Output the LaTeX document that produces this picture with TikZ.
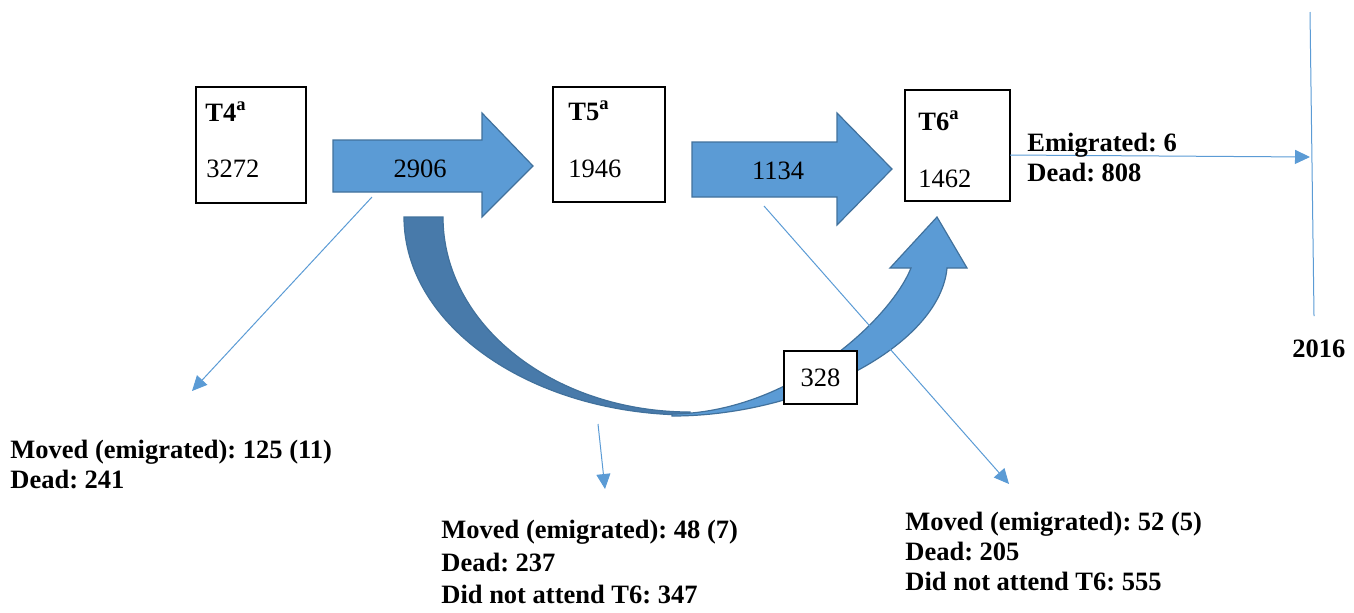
\documentclass[tikz,border=0pt]{standalone}
\usepackage{fontspec}
\setmainfont{Liberation Serif}
\usetikzlibrary{arrows.meta}
\definecolor{flowblue}{HTML}{5B9BD5}
\definecolor{flowedge}{HTML}{41719C}
\definecolor{flowdark}{HTML}{487AAA}
\frenchspacing

\begin{document}
\begin{tikzpicture}[x=0.5pt, y=-0.5pt,
    every node/.style = {font=\fontsize{13.25}{15}\selectfont},
    box/.style = {draw, line width=1pt, inner sep=0pt},
    flow/.style = {fill=flowblue, draw=flowedge, line width=0.6pt},
    thin/.style = {draw=flowblue, line width=0.5pt, -{Triangle[length=7.5pt,width=7pt]}},
    note/.style = {align=left, anchor=north west, inner sep=0pt, font=\fontsize{13.25}{15}\selectfont\bfseries}]
    \useasboundingbox (0,0) rectangle (1354,612);

    % the three waves
    \node[box, minimum width=55pt, minimum height=58pt](t4) at (251,145){};
    \node[box, minimum width=56pt, minimum height=57.5pt](t5) at (609,144.5){};
    \node[box, minimum width=52.5pt, minimum height=55.5pt](t6) at (957.5,145.5){};
    \node[anchor=base west, inner sep=0pt](t4name) at (205,121){\textbf{T4\textsuperscript{a}}};
    \node[anchor=base west, inner sep=0pt](t4n) at (206,177){3272};
    \node[anchor=base west, inner sep=0pt](t5name) at (568,120){\textbf{T5\textsuperscript{a}}};
    \node[anchor=base west, inner sep=0pt](t5n) at (568,177){1946};
    \node[anchor=base west, inner sep=0pt](t6name) at (918,130){\textbf{T6\textsuperscript{a}}};
    \node[anchor=base west, inner sep=0pt](t6n) at (918,187){1462};

    % block arrows
    \draw[flow] (333,140) -- (482,140) -- (482,113) -- (533,166) -- (482,217) -- (482,192) -- (333,192) -- cycle;
    \draw[flow] (692,142) -- (837,142) -- (837,113) -- (892,169) -- (837,225) -- (837,197) -- (692,197) -- cycle;
    \node[anchor=base, inner sep=0pt](f45) at (420,177){2906};
    \node[anchor=base, inner sep=0pt](f56) at (778,179){1134};

    % curved arrow T4 to T6
    \draw[flow, fill=flowdark] (404,217) .. controls (404,326) and (532,415) .. (690,415)
        -- (690,412) .. controls (554,412) and (443,325) .. (443,217) -- cycle;
    \draw[flow] (672,414) .. controls (790,413) and (890,320) .. (911,268) -- (890,268) -- (937,217)
        -- (967,268) -- (947,268) .. controls (940,345) and (805,416) .. (672,416) -- cycle;
    \node[box, fill=white, minimum width=36.5pt, minimum height=26.5pt](f46) at (820.5,377.5){328};

    % losses
    \coordinate (a1) at (372,197);
    \coordinate (a2) at (192,391);
    \coordinate (b1) at (598,424);
    \coordinate (b2) at (605,489);
    \coordinate (c1) at (764,206);
    \coordinate (c2) at (1009,484);
    \coordinate (d1) at (1010,155);
    \coordinate (d2) at (1310,157);
    \draw[thin] (a1) -- (a2);
    \draw[thin] (b1) -- (b2);
    \draw[thin] (c1) -- (c2);
    \draw[thin] (d1) -- (d2);
    \draw[draw=flowblue, line width=0.5pt] (1310,12) -- (1314,316);

    \node[note](loss6) at (1027,133){Emigrated: 6\\Dead: 808};
    \node[note](end) at (1292,339){2016};
    \node[note](loss4) at (10,440){Moved (emigrated): 125 (11)\\Dead: 241};
    \node[note, font=\fontsize{13.25}{16.25}\selectfont\bfseries](loss5) at (441,520){Moved (emigrated): 48 (7)\\Dead: 237\\Did not attend T6: 347};
    \node[note](loss56) at (905,512){Moved (emigrated): 52 (5)\\Dead: 205\\Did not attend T6: 555};
\end{tikzpicture}
\end{document}
